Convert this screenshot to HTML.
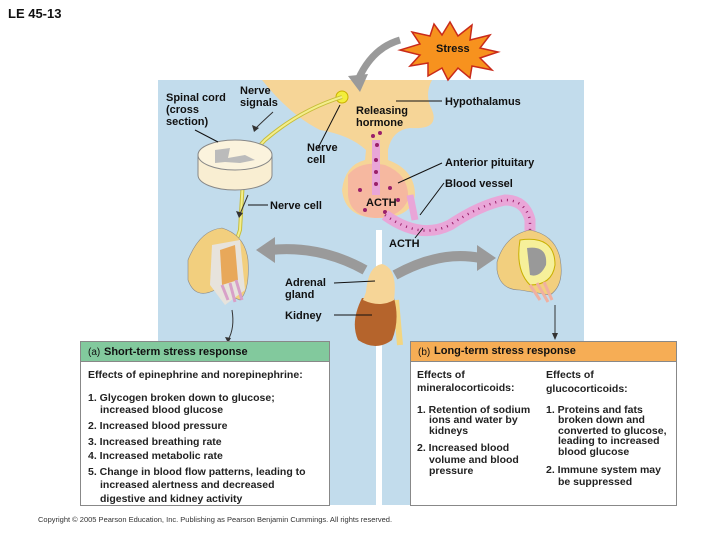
<!DOCTYPE html>
<html><head><meta charset="utf-8"><style>
body{margin:0;background:#fff;}
svg{display:block;font-family:"Liberation Sans",Arial,sans-serif;}
.b{font-weight:bold;font-size:11px;fill:#111;}
.t{font-weight:bold;font-size:10.5px;fill:#222;}
</style></head><body>
<svg width="728" height="546" viewBox="0 0 728 546">
<rect width="728" height="546" fill="#fff"/>
<text x="8" y="18" font-weight="bold" font-size="13" fill="#111">LE 45-13</text>
<rect x="158" y="80" width="218" height="425" fill="#c2dcec"/>
<rect x="382" y="80" width="202" height="425" fill="#c2dcec"/>
<rect x="360" y="80" width="30" height="150" fill="#c2dcec"/>
<path d="M262 80 L432 80 Q424 95 432 110 Q440 130 410 128 Q392 130 388 150 L388 160 Q415 170 415 195 Q412 218 378 218 Q345 218 342 190 Q345 165 365 160 L366 150 Q350 135 320 130 Q290 115 262 80Z" fill="#f6d597"/>
<path d="M348 175 Q360 160 385 165 Q410 175 408 200 Q400 218 375 218 Q350 216 348 195Z" fill="#f6b8a0"/>
<path d="M376 140 L376 195" stroke="#e9a6d8" stroke-width="8"/>
<g fill="#9a1f6a">
<circle cx="373" cy="136" r="2"/><circle cx="380" cy="133" r="2"/><circle cx="377" cy="145" r="2"/>
<circle cx="376" cy="160" r="2"/><circle cx="376" cy="172" r="2"/><circle cx="376" cy="184" r="2"/>
<circle cx="360" cy="190" r="2"/><circle cx="390" cy="188" r="2"/><circle cx="398" cy="200" r="2"/><circle cx="365" cy="210" r="2"/><circle cx="385" cy="212" r="2"/>
</g>
<path d="M385 215 Q420 240 450 225 Q480 205 505 200 Q525 200 530 220 L530 240" stroke="#e9a6d8" stroke-width="11" fill="none"/>
<path d="M410 195 L415 220" stroke="#e9a6d8" stroke-width="7"/>
<path d="M385 215 Q420 240 450 225 Q480 205 505 200 Q525 200 530 220 L530 240" stroke="#9a1f6a" stroke-width="2.5" stroke-dasharray="1 5" fill="none"/>
<path d="M400 40 Q372 48 358 80" stroke="#9a9a9a" stroke-width="7" fill="none"/>
<polygon points="348,76 360,92 368,74" fill="#9a9a9a"/>
<polygon points="450,22 458,36 472,25 470,40 490,35 480,48 498,52 480,58 492,70 472,66 470,78 458,68 448,80 442,68 428,76 428,63 410,66 420,55 400,50 420,44 412,32 430,36 434,24 442,35" fill="#f7921e" stroke="#c92a1a" stroke-width="1.5"/>
<text x="436" y="52" class="b" font-size="10">Stress</text>
<circle cx="342" cy="97" r="6" fill="#f3ee3c" stroke="#c9b000"/>
<path d="M342 97 Q300 110 265 140 Q245 160 243 180 L240 230 Q230 260 225 270" stroke="#c7bd3a" stroke-width="4" fill="none"/>
<path d="M342 97 Q300 110 265 140 Q245 160 243 180 L240 230 Q230 260 225 270" stroke="#f4ee8c" stroke-width="2" fill="none"/>
<ellipse cx="235" cy="175" rx="37" ry="15" fill="#f9eed2" stroke="#888"/>
<rect x="198" y="155" width="74" height="20" fill="#f9eed2"/>
<line x1="198" y1="155" x2="198" y2="175" stroke="#888"/><line x1="272" y1="155" x2="272" y2="175" stroke="#888"/>
<ellipse cx="235" cy="155" rx="37" ry="15" fill="#fbf3dd" stroke="#888"/>
<path d="M215 150 L230 148 L228 158 L245 155 L255 160 L240 163 L225 162 L215 163Z" fill="#bbb"/>
<path d="M188 260 Q200 230 222 228 Q245 235 248 260 Q250 290 240 300 L215 290 Q195 300 188 280Z" fill="#f2cf7e" stroke="#888" stroke-width="0.6"/>
<path d="M212 245 L240 240 L245 290 L225 305 L210 285Z" fill="#e7e3dc"/>
<path d="M220 250 L235 245 L238 280 L222 285Z" fill="#e8a85a"/>
<path d="M222 285 L228 300 M230 283 L235 302 M236 280 L242 300" stroke="#d8a0c8" stroke-width="3"/>
<path d="M497 262 Q505 235 530 230 Q555 235 560 258 Q565 285 550 295 L520 290 Q500 290 497 270Z" fill="#f2cf7e" stroke="#888" stroke-width="0.6"/>
<path d="M520 240 Q555 235 555 265 Q552 285 530 285 Q515 270 520 240Z" fill="#f6f09a" stroke="#c9b000"/>
<path d="M527 248 Q548 245 546 265 Q540 278 530 275Z" fill="#999"/>
<path d="M530 285 L540 300 M537 283 L548 302 M544 282 L552 300" stroke="#f0b0a0" stroke-width="3"/>
<path d="M365 270 Q320 245 270 250" stroke="#9a9a9a" stroke-width="10" fill="none"/>
<polygon points="256,250 275,237 275,263" fill="#9a9a9a"/>
<path d="M395 275 Q440 250 480 258" stroke="#9a9a9a" stroke-width="10" fill="none"/>
<polygon points="496,258 477,245 477,271" fill="#9a9a9a"/>
<path d="M396 300 L400 345" stroke="#f3d580" stroke-width="6"/>
<path d="M362 298 Q350 322 358 340 Q376 352 392 340 Q400 320 394 298Z" fill="#b5642c"/>
<path d="M366 292 Q368 266 382 264 Q398 268 394 300 Q380 308 363 300Z" fill="#f6d597"/>
<path d="M232 310 Q235 328 228 340" stroke="#333" fill="none"/><polygon points="225,337 228,343 231,338" fill="#333"/>
<path d="M555 305 L555 335" stroke="#333"/><polygon points="552,333 555,340 558,333" fill="#333"/>
<path d="M248 195 L240 214" stroke="#333"/><polygon points="236,211 239,218 243,213" fill="#333"/>
<path d="M273 112 Q262 122 256 128" stroke="#333"/><polygon points="252,125 254,132 259,128" fill="#333"/>
<g stroke="#111" stroke-width="1">
<line x1="195" y1="130" x2="218" y2="142"/>
<line x1="396" y1="101" x2="442" y2="101"/>
<line x1="318" y1="148" x2="340" y2="105"/>
<line x1="398" y1="183" x2="442" y2="163"/>
<line x1="420" y1="215" x2="444" y2="183"/>
<line x1="248" y1="205" x2="268" y2="205"/>
<line x1="415" y1="238" x2="423" y2="228"/>
<line x1="334" y1="283" x2="375" y2="281"/>
<line x1="334" y1="315" x2="372" y2="315"/>
</g>
<g class="b">
<text x="166" y="101">Spinal cord</text><text x="166" y="113">(cross</text><text x="166" y="125">section)</text>
<text x="240" y="94">Nerve</text><text x="240" y="106">signals</text>
<text x="445" y="105">Hypothalamus</text>
<text x="356" y="114">Releasing</text><text x="356" y="126">hormone</text>
<text x="307" y="151">Nerve</text><text x="307" y="163">cell</text>
<text x="445" y="166">Anterior pituitary</text>
<text x="445" y="187">Blood vessel</text>
<text x="366" y="206">ACTH</text>
<text x="270" y="209">Nerve cell</text>
<text x="389" y="247">ACTH</text>
<text x="285" y="286">Adrenal</text><text x="285" y="298">gland</text>
<text x="285" y="319">Kidney</text>
</g>
<rect x="80.5" y="341.5" width="249" height="164" fill="#fff" stroke="#888"/>
<rect x="81" y="342" width="248" height="19" fill="#82c99d"/>
<line x1="80.5" y1="361.5" x2="329.5" y2="361.5" stroke="#888"/>
<text x="88" y="355" font-size="10" fill="#111">(a)</text>
<text x="104" y="355" class="b">Short-term stress response</text>
<g class="t">
<text x="88" y="378">Effects of epinephrine and norepinephrine:</text>
<text x="88" y="401">1. Glycogen broken down to glucose;</text>
<text x="100" y="413">increased blood glucose</text>
<text x="88" y="429">2. Increased blood pressure</text>
<text x="88" y="445">3. Increased breathing rate</text>
<text x="88" y="459">4. Increased metabolic rate</text>
<text x="88" y="475">5. Change in blood flow patterns, leading to</text>
<text x="100" y="488">increased alertness and decreased</text>
<text x="100" y="502">digestive and kidney activity</text>
</g>
<rect x="410.5" y="341.5" width="266" height="164" fill="#fff" stroke="#888"/>
<rect x="411" y="342" width="265" height="19" fill="#f6ad55"/>
<line x1="410.5" y1="361.5" x2="676.5" y2="361.5" stroke="#888"/>
<text x="418" y="355" font-size="10" fill="#111">(b)</text>
<text x="434" y="354" class="b">Long-term stress response</text>
<g class="t">
<text x="417" y="378">Effects of</text><text x="417" y="391">mineralocorticoids:</text>
<text x="417" y="413">1. Retention of sodium</text><text x="429" y="423">ions and water by</text><text x="429" y="434">kidneys</text>
<text x="417" y="451">2. Increased blood</text><text x="429" y="463">volume and blood</text><text x="429" y="474">pressure</text>
<text x="546" y="378">Effects of</text><text x="546" y="392">glucocorticoids:</text>
<text x="546" y="413">1. Proteins and fats</text><text x="558" y="423">broken down and</text><text x="558" y="434">converted to glucose,</text><text x="558" y="444">leading to increased</text><text x="558" y="455">blood glucose</text>
<text x="546" y="473">2. Immune system may</text><text x="558" y="485">be suppressed</text>
</g>
<text x="38" y="522" font-size="7.5" fill="#333">Copyright © 2005 Pearson Education, Inc. Publishing as Pearson Benjamin Cummings. All rights reserved.</text>
</svg>
</body></html>
